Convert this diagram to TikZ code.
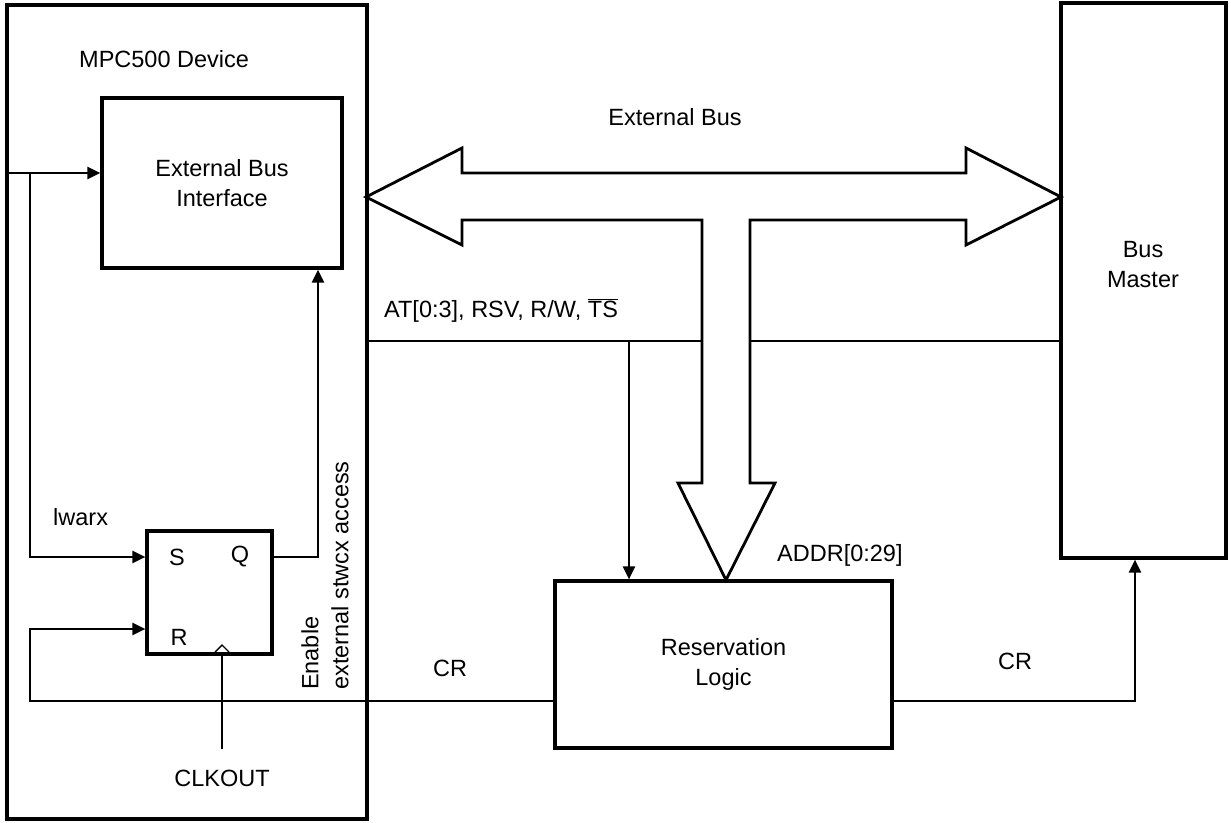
\documentclass[tikz,border=0pt]{standalone}
\usepackage{fontspec}
\setmainfont{Liberation Sans}
\usetikzlibrary{arrows.meta}
\begin{document}
\begin{tikzpicture}[x=1pt,y=-1pt,
  box/.style={draw, line width=3.2pt, rectangle, inner sep=0pt},
  lbl/.style={inner sep=0pt, align=center, font=\fontsize{23.5}{30}\selectfont},
  conn/.style={line width=2.4pt},
  arr/.style={conn, -{Triangle[length=13pt,width=12pt]}},
  bus/.style={line width=2.8pt, line join=miter}]
\useasboundingbox (0,0) rectangle (1231,822);
% blocks
\node[box, minimum width=360pt, minimum height=814pt] (mpc) at (187,412) {};
\node[box, lbl, minimum width=240pt, minimum height=170pt] (ebi) at (222,183) {External Bus\\Interface};
\node[box, minimum width=125pt, minimum height=123pt] (ff) at (209.5,592.5) {};
\node[box, lbl, minimum width=337pt, minimum height=167pt] (rl) at (723.5,664.5) {Reservation\\Logic};
\node[box, minimum width=165pt, minimum height=555pt] (bm) at (1143.5,280.5) {};
\node[lbl] (bmt) at (1143,265) {Bus\\Master};
% labels
\node[lbl, anchor=base west] (mpct) at (79,67) {MPC500 Device};
\node[lbl] (ebt) at (675,117) {External Bus};
\node[lbl, anchor=base west] (att) at (384,317) {AT[0:3], RSV, R/W, $\overline{\mbox{TS}}$};
\node[lbl, anchor=base west] (addr) at (777,561) {ADDR[0:29]};
\node[lbl, anchor=base west] (lw) at (53,525) {lwarx};
\node[lbl] (s) at (177,557) {S};
\node[lbl] (q) at (240,557) {Q};
\node[lbl] (r) at (179,637) {R};
\node[lbl] (crl) at (450,668) {CR};
\node[lbl] (crr) at (1015,661) {CR};
\node[lbl] (clk) at (222,778) {CLKOUT};
\node[lbl, rotate=90, anchor=west, align=left] (en) at (325,690) {Enable\\external stwcx access};
% bus shape
\draw[bus] (366,197) -- (462,148) -- (462,173) -- (966,173) -- (966,148) -- (1061,197)
  -- (966,245) -- (966,220) -- (750,220) -- (750,483) -- (775,483) -- (726,580)
  -- (678,483) -- (702,483) -- (702,220) -- (462,220) -- (462,245) -- cycle;
% connectors
\coordinate (inL) at (mpc.west |- 0,173);
\coordinate (br) at (30,173);
\draw[arr] (inL) -- (inL -| ebi.west);
\draw[arr] (br) |- (ff.west |- 0,557);
\draw[arr] (ff.east |- 0,557) -| (ebi.south -| 318,0);
\draw[arr] (rl.west |- 0,701) -| (30,629) -- (ff.west |- 0,629);
\draw[arr] (rl.east |- 0,701) -| (bm.south -| 1135,0);
\coordinate (atL) at (mpc.east |- 0,341);
\coordinate (atM) at (702,341);
\coordinate (atN) at (750,341);
\coordinate (atD) at (629,341);
\draw[conn] (atL) -- (atM);
\draw[conn] (atN) -- (atN -| bm.west);
\draw[arr] (atD) -- (atD |- rl.north);
\coordinate (clkB) at (222,749);
\draw[conn] (clkB) -- (clkB |- ff.south);
\draw[line width=1.4pt] (215,652) -- (222,645) -- (229,652);
\end{tikzpicture}
\end{document}
